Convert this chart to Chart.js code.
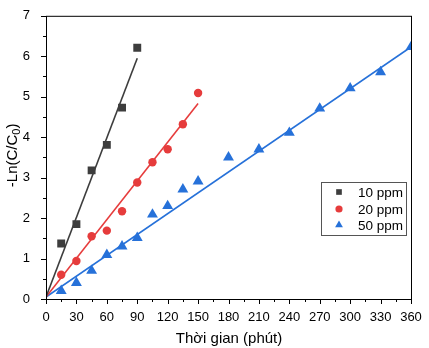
<!DOCTYPE html>
<html>
<head>
<meta charset="utf-8">
<script src="https://cdn.jsdelivr.net/npm/chart.js@4"></script>
<style>
  html, body { margin: 0; padding: 0; background: #fff; }
  #wrap { width: 429px; height: 348px; position: relative; }
</style>
</head>
<body>
<div id="wrap"><canvas id="kinetics"></canvas></div>
<script>
// sampling times (minutes) and -ln(C/C0) for each initial concentration
const time10 = [15, 30, 45, 60, 75, 90];
const lnc10 = [1.37, 1.85, 3.18, 3.81, 4.73, 6.21];

const time20 = [15, 30, 45, 60, 75, 90, 105, 120, 135, 150];
const lnc20 = [0.60, 0.94, 1.55, 1.69, 2.17, 2.88, 3.38, 3.70, 4.32, 5.09];

const time50 = [15, 30, 45, 60, 75, 90, 105, 120, 135, 150, 180, 210, 240, 270, 300, 330, 360];
const lnc50 = [0.20, 0.40, 0.70, 1.09, 1.30, 1.51, 2.09, 2.30, 2.71, 2.91, 3.50, 3.70, 4.11, 4.71, 5.21, 5.61, 6.23];

// linear fits, endpoints only
const fitX10 = [0, 90], fitY10 = [0.05, 5.95];
const fitX20 = [0, 150], fitY20 = [0.05, 4.83];
const fitX50 = [0, 360], fitY50 = [0.05, 6.23];

const labels = ['10 ppm', '20 ppm', '50 ppm'];
const xTicks = [0, 30, 60, 90, 120, 150, 180, 210, 240, 270, 300, 330, 360];
const yTicks = [0, 1, 2, 3, 4, 5, 6, 7];

const colBlack = '#3d3d3d';
const colRed = '#e63c3c';
const colBlue = '#2671d9';
const FONT = '"Liberation Sans", Arial, sans-serif';

const pts = (xs, ys) => xs.map((x, i) => ({ x: x, y: ys[i] }));

function scatterSet(label, xs, ys, color, style, radius) {
  return {
    label: label, data: pts(xs, ys), showLine: false,
    pointStyle: style, pointRadius: radius, pointHoverRadius: radius,
    backgroundColor: color, borderColor: color, borderWidth: 0, clip: 0, order: 0
  };
}
function fitSet(xs, ys, color) {
  return {
    label: '', data: pts(xs, ys), showLine: true, pointRadius: 0,
    borderColor: color, borderWidth: 1.6, fill: false, clip: 0, order: 1
  };
}

// frame, ticks, axis titles and the legend box
const decor = {
  id: 'decor',
  afterDraw(chart) {
    const ctx = chart.ctx;
    const a = chart.chartArea;
    const xs = chart.scales.x, ys = chart.scales.y;
    ctx.save();
    ctx.strokeStyle = '#000';
    ctx.lineWidth = 1;
    ctx.strokeRect(a.left + 0.5, a.top + 0.5, a.right - a.left, a.bottom - a.top);

    ctx.beginPath();
    for (let v = 0; v <= 360; v += 15) {
      const px = Math.round(xs.getPixelForValue(v)) + 0.5;
      const len = v % 30 === 0 ? 5 : 3;
      ctx.moveTo(px, a.bottom); ctx.lineTo(px, a.bottom + len);
    }
    for (let v = 0; v <= 7; v += 0.5) {
      const py = Math.round(ys.getPixelForValue(v)) + 0.5;
      const len = v % 1 === 0 ? 5 : 3;
      ctx.moveTo(a.left, py); ctx.lineTo(a.left - len, py);
    }
    ctx.stroke();

    // x title
    ctx.fillStyle = '#000';
    ctx.font = '15px ' + FONT;
    ctx.textAlign = 'center';
    ctx.textBaseline = 'middle';
    ctx.fillText('Thời gian (phút)', 229, 339);

    // y title with subscript
    ctx.translate(13, (a.top + a.bottom) / 2 - 2);
    ctx.rotate(-Math.PI / 2);
    const p1 = '-Ln(C/C', sub = '0', p2 = ')';
    ctx.font = '15px ' + FONT;
    const w1 = ctx.measureText(p1).width, w3 = ctx.measureText(p2).width;
    ctx.font = '11px ' + FONT;
    const w2 = ctx.measureText(sub).width;
    let x0 = -(w1 + w2 + w3) / 2;
    ctx.textAlign = 'left';
    ctx.font = '15px ' + FONT;
    ctx.fillText(p1, x0, 0);
    ctx.font = '11px ' + FONT;
    ctx.fillText(sub, x0 + w1, 4);
    ctx.font = '15px ' + FONT;
    ctx.fillText(p2, x0 + w1 + w2, 0);
    ctx.restore();

    // legend
    ctx.save();
    ctx.strokeStyle = '#555';
    ctx.lineWidth = 1;
    ctx.fillStyle = '#fff';
    ctx.fillRect(321, 182, 86, 53);
    ctx.strokeRect(321.5, 182.5, 85, 53);
    ctx.font = '13.5px ' + FONT;
    ctx.textAlign = 'left';
    ctx.textBaseline = 'middle';
    const rows = [192, 209, 225];
    chart.data.datasets.filter(d => d.label).forEach((d, i) => {
      const r = d.pointStyle === 'triangle' ? 4.5 : d.pointStyle === 'rect' ? 4 : 3.6;
      ctx.fillStyle = d.backgroundColor;
      ctx.strokeStyle = d.backgroundColor;
      Chart.helpers.drawPoint(ctx, { pointStyle: d.pointStyle, radius: r, borderWidth: 0 }, 339, rows[i]);
      ctx.fillStyle = '#000';
      ctx.fillText(d.label, 358, rows[i] + 1);
    });
    ctx.restore();
  }
};

new Chart(document.getElementById('kinetics'), {
  type: 'scatter',
  data: {
    datasets: [
      fitSet(fitX10, fitY10, colBlack),
      fitSet(fitX20, fitY20, colRed),
      fitSet(fitX50, fitY50, colBlue),
      scatterSet(labels[0], time10, lnc10, colBlack, 'rect', 5.6),
      scatterSet(labels[1], time20, lnc20, colRed, 'circle', 4.2),
      scatterSet(labels[2], time50, lnc50, colBlue, 'triangle', 6.3)
    ]
  },
  options: {
    responsive: true,
    maintainAspectRatio: false,
    animation: false,
    layout: { padding: { left: 0, right: 18, top: 6, bottom: 0 } },
    plugins: { legend: { display: false }, tooltip: { enabled: false } },
    scales: {
      x: {
        type: 'linear', min: 0, max: 360,
        afterBuildTicks: s => { s.ticks = xTicks.map(v => ({ value: v })); },
        afterFit: s => { s.height = 49; },
        grid: { display: false },
        border: { display: false },
        ticks: { color: '#000', font: { family: FONT, size: 13 }, padding: 3, maxRotation: 0, autoSkip: false }
      },
      y: {
        type: 'linear', min: 0, max: 7,
        afterBuildTicks: s => { s.ticks = yTicks.map(v => ({ value: v })); },
        afterFit: s => { s.width = 46; },
        grid: { display: false },
        border: { display: false },
        ticks: { color: '#000', font: { family: FONT, size: 13 }, padding: 8 }
      }
    }
  },
  plugins: [decor]
});
</script>
</body>
</html>
